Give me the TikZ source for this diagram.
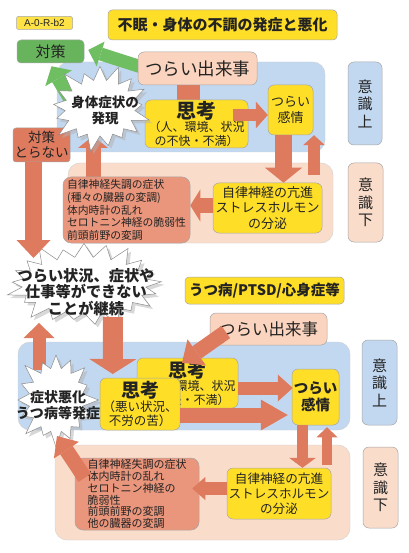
\documentclass[tikz,border=0pt]{standalone}
\usepackage{fontspec}
\setmainfont{Noto Sans CJK JP}
\newfontfamily\latinsans{Liberation Sans}
\usetikzlibrary{shapes.symbols,arrows.meta,calc,shadows}
\pgfdeclarelayer{bgwhite}\pgfdeclarelayer{back}\pgfdeclarelayer{under}\pgfdeclarelayer{top}\pgfdeclarelayer{last}
\pgfsetlayers{bgwhite,back,under,main,top,last}
\definecolor{blueR}{RGB}{194,216,240}
\definecolor{peachR}{RGB}{250,220,202}
\definecolor{peachB}{RGB}{250,212,190}
\definecolor{salA}{RGB}{222,122,94}
\definecolor{salB}{RGB}{234,150,124}
\definecolor{yelB}{RGB}{255,222,40}
\definecolor{yelL}{RGB}{255,226,70}
\definecolor{greenB}{RGB}{104,180,92}
\definecolor{greenA}{RGB}{112,190,98}
\definecolor{txt}{RGB}{35,35,35}
\newcommand{\fsz}[2]{\fontsize{#1}{#2}\selectfont}
\begin{document}
\begin{tikzpicture}[x=1pt,y=-1pt,
  box/.style={draw=black!35, line width=0.5pt, rounded corners=4pt, inner sep=1pt, align=center, text=txt},
  region/.style={draw=black!18, line width=0.4pt, rounded corners=12pt, inner sep=0pt},
  lab/.style={box, rounded corners=6pt, font=\fsz{15}{17.5}},
  burst/.style={starburst, fill=white, draw=black!45, line width=0.5pt, inner sep=0pt,
    drop shadow={shadow xshift=3pt, shadow yshift=-3pt, fill=black!30}},
  bursttext/.style={align=center, text=txt, inner sep=0pt, font=\bfseries},
  arr/.style n args={3}{draw=salA, line width=#1, -{Triangle[width=#2,length=#3,line width=0pt]}},
  garr/.style n args={3}{draw=greenA, line width=#1, -{Triangle[width=#2,length=#3,line width=0pt]}},
]
\begin{pgfonlayer}{bgwhite}
\fill[white] (0,0) rectangle (408,553);
\end{pgfonlayer}
\useasboundingbox (0,0) rectangle (408,553);

% regions
\begin{pgfonlayer}{back}
\node[region, fill=blueR, minimum width=268pt, minimum height=90pt] (blu1) at (191,107) {};
\node[region, fill=peachR, minimum width=265pt, minimum height=80pt] (pea1) at (200.5,203) {};
\node[region, fill=blueR, minimum width=332pt, minimum height=88pt] (blu2) at (184,386) {};
\node[region, fill=peachR, minimum width=295pt, minimum height=95pt] (pea2) at (202.5,492.5) {};
\end{pgfonlayer}

% side labels
\node[lab, fill=blueR, minimum width=34pt, minimum height=83pt] (ij1) at (365,103.5) {意\\識\\上};
\node[lab, fill=peachR, minimum width=35pt, minimum height=79pt] (ik1) at (365.5,202.5) {意\\識\\下};
\node[lab, fill=blueR, minimum width=35pt, minimum height=85pt] (ij2) at (379.5,382.5) {意\\識\\上};
\node[lab, fill=peachR, minimum width=35pt, minimum height=81pt] (ik2) at (380.5,487.5) {意\\識\\下};

% top part boxes
\node[box, fill=yelL, rounded corners=2pt, minimum width=56pt, minimum height=13pt, inner sep=0pt, font=\latinsans\fsz{10}{11}] (lbl) at (44.5,23) {A-0-R-b2};
\node[box, fill=yelB, minimum width=229pt, minimum height=30pt, font=\bfseries\fsz{15}{17}] (ttl) at (222.5,25) {不眠・身体の不調の発症と悪化};
\node[box, fill=greenB, minimum width=67pt, minimum height=23pt, font=\fsz{15}{17}] (tai) at (50.5,51.5) {対策};
\node[box, fill=peachB, rounded corners=6pt, minimum width=119pt, minimum height=33pt, font=\fsz{17.5}{20}] (dek1) at (197.5,68.5) {つらい出来事};
\node[box, fill=yelB, rounded corners=6pt, minimum width=103pt, minimum height=48pt, font=\fsz{12}{13.5}] (shk1) at (196.5,124) {{\bfseries\fsz{20}{18}思考}\\（人、環境、状況\\の不快・不満）};
\node[box, fill=yelB, rounded corners=6pt, minimum width=45pt, minimum height=50pt, font=\fsz{13}{16}] (kan1) at (290.5,110) {つらい\\感情};
\node[box, fill=yelB, rounded corners=6pt, minimum width=109pt, minimum height=50pt, font=\fsz{13}{15.5}] (jir1) at (267.5,208) {自律神経の亢進\\ストレスホルモン\\の分泌};
\node[box, fill=salB, rounded corners=8pt, minimum width=127pt, minimum height=66pt, align=left, font=\fsz{10.8}{12.8}] (shj1) at (126.5,210) {自律神経失調の症状\\(種々の臓器の変調)\\体内時計の乱れ\\セロトニン神経の脆弱性\\前頭前野の変調};
\node[box, fill=salA, rounded corners=3pt, minimum width=57pt, minimum height=34pt, font=\fsz{13.5}{15}] (tor) at (41.5,145) {対策\\とらない};

% middle/bottom boxes
\node[box, fill=yelB, minimum width=159pt, minimum height=27pt, font=\bfseries\fsz{14.5}{16}] (utsu) at (264.5,290.5) {うつ病/PTSD/心身症等};
\node[box, fill=peachB, rounded corners=6pt, minimum width=117pt, minimum height=32pt, font=\fsz{16.5}{19}] (dek2) at (268.5,329) {つらい出来事};
\node[box, fill=yelB, rounded corners=6pt, minimum width=101pt, minimum height=50pt, font=\fsz{12}{13.5}] (sh2b) at (187.5,383) {{\bfseries\fsz{19}{18}思考}\\（人、環境、状況\\の不快・不満）};
\node[box, fill=yelB, rounded corners=6pt, minimum width=80pt, minimum height=52pt, font=\fsz{12.5}{14}] (sh2f) at (140,404) {{\bfseries\fsz{19}{18}思考}\\（悪い状況、\\不労の苦）};
\node[box, fill=yelB, rounded corners=6pt, minimum width=47pt, minimum height=56pt, font=\bfseries\fsz{14.5}{17}] (kan2) at (315.5,397) {つらい\\感情};
\node[box, fill=yelB, rounded corners=6pt, minimum width=104pt, minimum height=51pt, font=\fsz{12.6}{15}] (jir2) at (279,493.5) {自律神経の亢進\\ストレスホルモン\\の分泌};
\node[box, fill=salB, rounded corners=8pt, minimum width=124pt, minimum height=72pt, align=left, font=\fsz{11}{11.8}] (shj2) at (137,494) {自律神経失調の症状\\体内時計の乱れ\\セロトニン神経の\\脆弱性\\前頭前野の変調\\他の臓器の変調};

% bursts
\node[burst, starburst points=17, starburst point height=19pt, minimum width=108pt, minimum height=94pt] (bst1) at (100,108) {};
\node[bursttext, font=\bfseries\fsz{13.5}{16}] (bst1t) at (105,110) {身体症状の\\発現};
\node[burst, starburst points=21, starburst point height=19pt, minimum width=162pt, minimum height=94pt] (bst2) at (84,285) {};
\node[bursttext, font=\bfseries\fsz{15.2}{16.5}] (bst2t) at (86,292) {つらい状況、症状や\\仕事等ができない\\ことが継続};

% hidden arrows
\begin{pgfonlayer}{under}
\draw[arr={23pt}{40pt}{15pt}] ($(dek1.south)+(-9.5,0)$) -- ($(shk1.north)+(-8.5,16)$);
\draw[arr={15pt}{30pt}{12pt}] ($(shj1.north)+(-33.5,0)$) -- ($(bst1.center)+(-7,28)$);
\draw[garr={13pt}{26pt}{13pt}] ($(dek1.west)+(2,-2)$) -- ($(tai.east)+(4,-1.5)$);
\draw[garr={15pt}{31pt}{14pt}] ($(bst1.center)+(-25,-2)$) -- ($(tai.south)+(1,3)$);
\end{pgfonlayer}

% bottom burst on its own layer
\begin{pgfonlayer}{last}
\node[burst, starburst points=16, starburst point height=18pt, minimum width=90pt, minimum height=100pt] (bst3) at (56,400) {};
\node[bursttext, font=\bfseries\fsz{14}{16}] (bst3t) at (58,405) {症状悪化\\うつ病等発症};
\draw[arr={15pt}{30pt}{17pt}] ($(shj2.north west)+(10,20)$) -- ($(bst3.center)+(1,36)$);
\end{pgfonlayer}

% visible arrows
\begin{pgfonlayer}{top}
\draw[arr={12pt}{27pt}{12pt}] ($(shk1.east)+(-15,-9)$) -- ($(kan1.west)+(0,5)$);
\draw[arr={17pt}{37pt}{15pt}] ($(kan1.south)+(-7,0)$) -- ($(jir1.north)+(16,0)$);
\draw[arr={12pt}{22pt}{10pt}] ($(jir1.north)+(46.5,-8)$) -- ($(kan1.south)+(23.5,0)$);
\draw[arr={15pt}{32pt}{10pt}] ($(jir1.west)+(0,-2.5)$) -- ($(shj1.east)+(0,-4.5)$);
\draw[arr={17pt}{34pt}{18pt}] ($(tor.south)+(-8,0)$) -- ($(bst2.center)+(-50.5,-27)$);
\draw[arr={13pt}{31pt}{15pt}] ($(bst3.center)+(-17,-30)$) -- ($(bst2.center)+(-45,38)$);
\draw[arr={20pt}{47pt}{15pt}] ($(bst2.center)+(29,32)$) -- ($(sh2b.west)+(-24,-9)$);
\draw[arr={15pt}{32pt}{18pt}] ($(dek2.west)+(16,3)$) -- ($(sh2b.north)+(-5.5,5)$);
\draw[arr={13pt}{27pt}{15pt}] ($(sh2b.east)+(0,5)$) -- ($(kan2.west)+(1,-9)$);
\draw[arr={15pt}{31pt}{27pt}] ($(sh2f.east)+(0,11)$) -- ($(kan2.west)+(-4,18)$);
\draw[arr={11pt}{27pt}{10pt}] ($(kan2.south)+(-13,0)$) -- ($(jir2.north)+(23.5,0)$);
\draw[arr={10pt}{21pt}{10pt}] ($(jir2.north)+(48,-3)$) -- ($(kan2.south)+(11.5,2)$);
\draw[arr={13pt}{23pt}{13pt}] ($(jir2.west)+(0,-5)$) -- ($(shj2.east)+(-7,-5.5)$);
\end{pgfonlayer}
\end{tikzpicture}
\end{document}
